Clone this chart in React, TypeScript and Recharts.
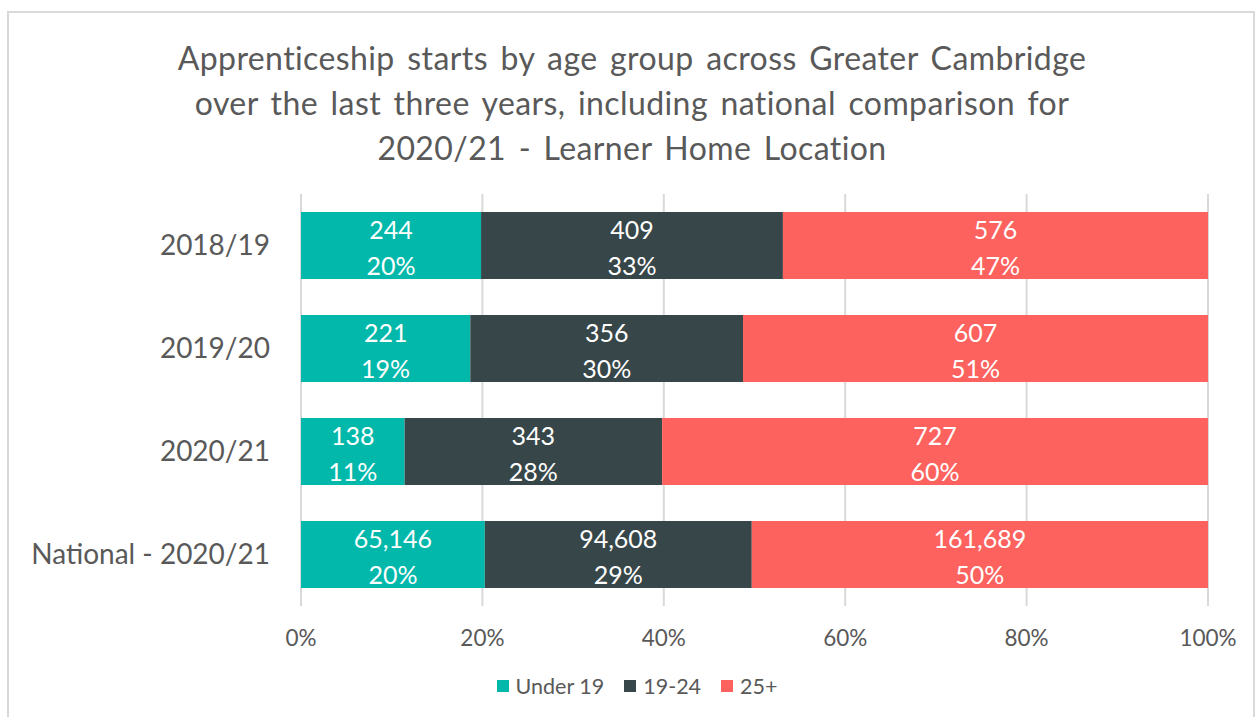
import React from 'react'
import { BarChart, Bar, XAxis, YAxis, CartesianGrid, LabelList } from 'recharts'

const categories = ['2018/19', '2019/20', '2020/21', 'National - 2020/21']
const under19 = [244, 221, 138, 65146]
const age19to24 = [409, 356, 343, 94608]
const age25plus = [576, 607, 727, 161689]
const xTicks = [0, 0.2, 0.4, 0.6, 0.8, 1]

const SERIES = [
  { key: 'u19', name: 'Under 19', color: '#01B8AA' },
  { key: 'mid', name: '19-24', color: '#374649' },
  { key: 'over', name: '25+', color: '#FD625E' },
]

const data = categories.map((name, i) => ({
  name,
  u19: under19[i],
  mid: age19to24[i],
  over: age25plus[i],
  total: under19[i] + age19to24[i] + age25plus[i],
}))

const FONT = 'Lato, "Open Sans", sans-serif'
const GREY = '#595959'

function StackLabel(props: any) {
  const { x, y, width, height, value } = props
  const [count, pct] = String(value).split('|')
  const cx = Number(x) + Number(width) / 2
  const cy = Number(y) + Number(height) / 2
  return (
    <g>
      <text x={cx} y={cy - 17} textAnchor="middle" dominantBaseline="central" fill="#fff" fontSize={25} fontFamily={FONT}>
        {count}
      </text>
      <text x={cx} y={cy + 19} textAnchor="middle" dominantBaseline="central" fill="#fff" fontSize={25} fontFamily={FONT}>
        {pct}
      </text>
    </g>
  )
}

export default function App() {
  return (
    <div style={{ position: 'absolute', left: 0, top: 0, width: 1255, height: 717, background: '#fff', overflow: 'hidden' }}>
      {/* outer chart frame */}
      <div style={{
        position: 'absolute', left: 7, top: 11, width: 1244, height: 720,
        border: '2px solid #d9d9d9',
      }} />
      {/* title */}
      <div style={{
        position: 'absolute', left: 0, top: 35, width: 1264, textAlign: 'center',
        fontFamily: FONT, fontSize: 32, lineHeight: '45px', color: GREY, letterSpacing: '0.4px', wordSpacing: '4px',
      }}>
        Apprenticeship starts by age group across Greater Cambridge<br />
        over the last three years, including national comparison for<br />
        2020/21 - Learner Home Location
      </div>

      <div style={{ position: 'absolute', left: 0, top: 0 }}>
        <BarChart
          width={1255}
          height={717}
          data={data}
          layout="vertical"
          stackOffset="expand"
          barCategoryGap="17.5%"
          margin={{ top: 194, right: 47, bottom: 71, left: 11 }}
        >
          <CartesianGrid horizontal={false} stroke="#d9d9d9" strokeWidth={2} />
          <XAxis
            type="number"
            domain={[0, 1]}
            ticks={xTicks}
            height={40}
            axisLine={false}
            tickLine={false}
            tickMargin={18}
            tickFormatter={(v: number) => `${Math.round(v * 100)}%`}
            tick={{ fill: GREY, fontSize: 22.5, fontFamily: FONT }}
          />
          <YAxis
            type="category"
            dataKey="name"
            width={290}
            axisLine={false}
            tickLine={false}
            tickMargin={25}
            tick={{ fill: GREY, fontSize: 28, fontFamily: FONT }}
          />
          {SERIES.map(s => (
            <Bar key={s.key} dataKey={s.key} stackId="a" fill={s.color} isAnimationActive={false}>
              <LabelList
                dataKey={(d: any) => `${d[s.key].toLocaleString('en-US')}|${Math.round((d[s.key] / d.total) * 100)}%`}
                content={<StackLabel />}
              />
            </Bar>
          ))}
        </BarChart>
      </div>

      {/* legend */}
      <div style={{
        position: 'absolute', left: 0, top: 673, width: 1274, display: 'flex', justifyContent: 'center', gap: 20,
        fontFamily: FONT, fontSize: 21.5, color: GREY,
      }}>
        {SERIES.map(s => (
          <div key={s.key} style={{ display: 'flex', alignItems: 'center', gap: 7 }}>
            <div style={{ width: 12, height: 12, background: s.color }} />
            <span>{s.name}</span>
          </div>
        ))}
      </div>
    </div>
  )
}
